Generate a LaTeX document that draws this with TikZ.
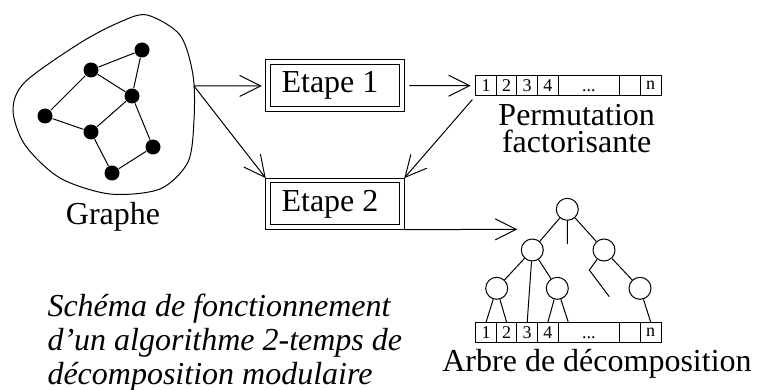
\documentclass[tikz,border=0pt]{standalone}
\usepackage{fontspec}
\setmainfont{Liberation Serif}
\usetikzlibrary{arrows.meta,positioning}

\begin{document}
\begin{tikzpicture}[x=1pt,y=-1pt,>={Straight Barb[length=21pt,width=21pt]},
                    line width=1pt,font=\fontsize{32}{25}\selectfont]

  \tikzstyle{vertex}=[circle,fill,inner sep=0pt,minimum size=15pt]
  \tikzstyle{tnode}=[circle,draw,fill=white,inner sep=0pt,minimum size=22pt]
  \tikzstyle{etape}=[rectangle,draw,double,double distance=3.8pt,outer sep=2.4pt,
                     inner sep=0pt,minimum width=133.8pt,minimum height=46.8pt]
  \tikzstyle{cell}=[rectangle,draw,inner sep=0pt,outer sep=0pt,minimum width=20.6pt,
                    minimum height=20pt,font=\fontsize{18}{18}\selectfont]
  \tikzstyle{dots}=[cell,minimum width=61.7pt]

  \useasboundingbox (0,0) rectangle (759,390);

  % le graphe
  \draw plot[smooth cycle] coordinates {(147,15) (180,35) (193,75) (194,120) (188,162)
        (160,189) (110,194) (60,178) (25,145) (13,110) (25,82) (80,43) (120,22)};
  \node[vertex] (G1) at (142,50)  {};
  \node[vertex] (G2) at (91,70)   {};
  \node[vertex] (G3) at (132,96)  {};
  \node[vertex] (G4) at (45,116)  {};
  \node[vertex] (G5) at (91,132)  {};
  \node[vertex] (G6) at (153,147) {};
  \node[vertex] (G7) at (112,173) {};
  \draw (G1) -- (G2) (G1) -- (G3) (G2) -- (G3) (G2) -- (G4) (G4) -- (G5)
        (G5) -- (G3) (G3) -- (G6) (G5) -- (G7) (G7) -- (G6);
  \node[inner sep=0pt,anchor=base] (GL) at (113,224) {Graphe};
  \coordinate (GO) at (194,86);

  % les deux etapes
  \node[etape] (E1) at (335,85.8) {Etape 1\hspace*{10pt}};
  \node[etape] (E2) [below=66.5pt of E1] {Etape 2\hspace*{10pt}};

  % permutation factorisante
  \node[cell] (P1) at (486,85.7) {1};
  \node[cell,right=0pt of P1] (P2) {2};
  \node[cell,right=0pt of P2] (P3) {3};
  \node[cell,right=0pt of P3] (P4) {4};
  \node[dots,right=0pt of P4] (P5) {\vphantom{1}...};
  \node[cell,right=0pt of P5] (P6) {};
  \node[cell,right=0pt of P6] (P7) {n};
  \node[inner sep=0pt,align=center] (PL)
       at (576.7,129) {Permutation\\[2pt]factorisante};

  % arbre de decomposition
  \node[cell] (T1) at (486,332.3) {1};
  \node[cell,right=0pt of T1] (T2) {2};
  \node[cell,right=0pt of T2] (T3) {3};
  \node[cell,right=0pt of T3] (T4) {4};
  \node[dots,right=0pt of T4] (T5) {\vphantom{1}...};
  \node[cell,right=0pt of T5] (T6) {};
  \node[cell,right=0pt of T6] (T7) {n};

  \node[tnode] (R)  at (567.3,209.3) {};
  \node[tnode] (A)  at (532.3,250)   {};
  \node[tnode] (B)  at (604,250)     {};
  \node[tnode] (A1) at (496.7,288.3) {};
  \node[tnode] (A2) at (557.3,288.3) {};
  \node[tnode] (B1) at (640,288.3)   {};
  \coordinate (RV) at (567.3,244);
  \coordinate (BK) at (589.3,270);
  \coordinate (BE) at (609.3,296.7);
  \coordinate (TD) at (568.3,322.3);
  \draw (R) -- (A) (R.south) -- (RV) (R) -- (B)
        (A) -- (A1) (A) -- (T3.north) (A) -- (A2)
        (B) -- (BK) -- (BE) (B) -- (B1)
        (A1) -- (T1.north) (A1) -- (T2.north)
        (A2) -- (T4.north) (A2) -- (TD)
        (B1) -- (T7.north);
  \node[inner sep=0pt,anchor=base] (AL) at (597,371) {Arbre de d\'ecomposition};

  % fleches
  \coordinate (TI) at (517.3,229.3);
  \draw[->,shorten >=4pt] (GO) -- (E1);
  \draw[->] (GO) -- (E2.north west);
  \draw[->,shorten <=5pt,shorten >=5pt] (E1) -- (P1);
  \draw[->,shorten <=5pt] (P1.south west) -- (E2.north east);
  \draw[->] (E2.south east) -- (TI);

  \node[inner sep=0pt,align=left,anchor=west,font=\fontsize{32}{34}\selectfont\itshape] (TX)
       at (47,342.5) {Sch\'ema de fonctionnement\\d'un algorithme 2-temps de\\d\'ecomposition modulaire};

\end{tikzpicture}
\end{document}
